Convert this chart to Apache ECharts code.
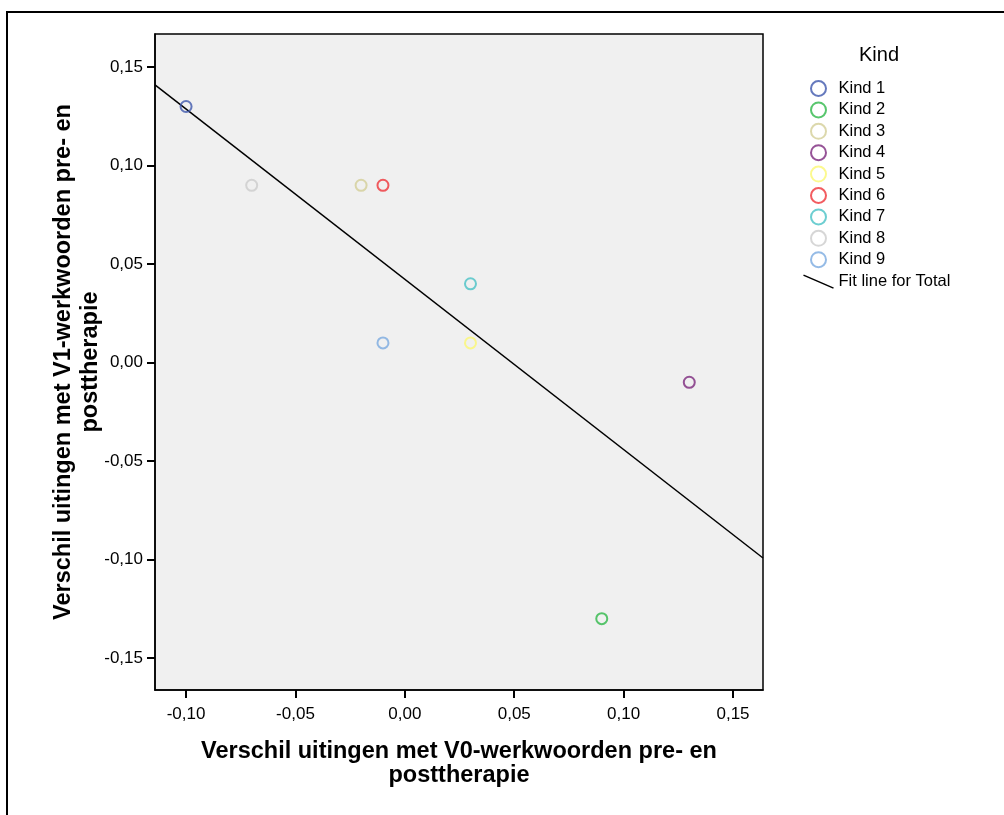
<!DOCTYPE html>
<html>
<head>
<meta charset="utf-8">
<script src="https://cdn.jsdelivr.net/npm/echarts@6/dist/echarts.min.js"></script>
<style>
  html, body { margin: 0; padding: 0; background: #fff; }
  #chart { width: 1004px; height: 815px; }
</style>
</head>
<body>
<div id="chart"></div>
<script>
// data
let kindNames = ['Kind 1', 'Kind 2', 'Kind 3', 'Kind 4', 'Kind 5', 'Kind 6', 'Kind 7', 'Kind 8', 'Kind 9'];
let kindColors = ['#3e58ac', '#2eb848', '#d3ce97', '#7c287d', '#fbf873', '#ef3338', '#48c2c5', '#cccccc', '#7aaae0'];
let xValues = [-0.10, 0.09, -0.02, 0.13, 0.03, -0.01, 0.03, -0.07, -0.01];
let yValues = [0.13, -0.13, 0.09, -0.01, 0.01, 0.09, 0.04, 0.09, 0.01];
let xTicks = [-0.10, -0.05, 0, 0.05, 0.10, 0.15];
let yTicks = [-0.15, -0.10, -0.05, 0, 0.05, 0.10, 0.15];
let xRange = [-0.1142, 0.1637];
let yRange = [-0.1662, 0.1668];

let fontName = 'Liberation Sans, Arial, sans-serif';
let fmt = (v) => v.toFixed(2).replace('.', ',');

// least squares fit line for all points
let fitLine = () => {
  let n = xValues.length;
  let mx = xValues.reduce((a, b) => a + b, 0) / n;
  let my = yValues.reduce((a, b) => a + b, 0) / n;
  let sxy = 0, sxx = 0;
  for (let i = 0; i < n; i++) {
    sxy += (xValues[i] - mx) * (yValues[i] - my);
    sxx += (xValues[i] - mx) * (xValues[i] - mx);
  }
  let b = sxy / sxx;
  let a = my - b * mx;
  return xRange.map(x => [x, a + b * x]);
}

let series = kindNames.map((name, i) => ({
  name: name,
  type: 'scatter',
  symbol: 'circle',
  symbolSize: 11,
  itemStyle: { color: 'transparent', borderColor: kindColors[i], borderWidth: 2 },
  data: [[xValues[i], yValues[i]]],
  z: 3
}));
series.push({
  name: 'Fit line for Total',
  type: 'line',
  symbol: 'none',
  lineStyle: { color: '#000', width: 1.5 },
  data: fitLine(),
  z: 2
});

let legendData = kindNames.map((name, i) => ({
  name: name,
  icon: 'circle',
  itemStyle: { color: 'transparent', borderColor: kindColors[i], borderWidth: 2 }
}));
legendData.push({
  name: 'Fit line for Total',
  icon: 'path://M0,0L30,13',
  itemStyle: { color: 'none', borderColor: '#000', borderWidth: 1.5 }
});

let myChart = echarts.init(document.getElementById('chart'));
let option = {
  animation: false,
  backgroundColor: '#fff',
  grid: {
    left: 155, top: 34, right: 241, bottom: 125,
    show: true, backgroundColor: '#f0f0f0', borderColor: '#000', borderWidth: 1.5
  },
  xAxis: {
    type: 'value',
    min: xRange[0], max: xRange[1],
    name: 'Verschil uitingen met V0-werkwoorden pre- en\nposttherapie',
    nameLocation: 'middle',
    nameGap: 50,
    nameMoveOverlap: false,
    nameTextStyle: { fontFamily: fontName, fontSize: 23.5, fontWeight: 'bold', color: '#000', lineHeight: 24 },
    splitLine: { show: false },
    axisLine: { show: true, onZero: false, lineStyle: { color: '#000', width: 1.5 } },
    axisTick: { show: true, length: 8, customValues: xTicks, lineStyle: { color: '#000', width: 2 } },
    axisLabel: { customValues: xTicks, formatter: fmt, margin: 16, fontFamily: fontName, fontSize: 17, color: '#000' }
  },
  yAxis: {
    type: 'value',
    min: yRange[0], max: yRange[1],
    name: 'Verschil uitingen met V1-werkwoorden pre- en\nposttherapie',
    nameLocation: 'middle',
    nameRotate: 90,
    nameGap: 51,
    nameMoveOverlap: false,
    nameTextStyle: { fontFamily: fontName, fontSize: 23.5, fontWeight: 'bold', color: '#000', lineHeight: 27 },
    splitLine: { show: false },
    axisLine: { show: true, onZero: false, lineStyle: { color: '#000', width: 1.5 } },
    axisTick: { show: true, length: 8, customValues: yTicks, lineStyle: { color: '#000', width: 2 } },
    axisLabel: { customValues: yTicks, formatter: fmt, margin: 12, fontFamily: fontName, fontSize: 17, color: '#000' }
  },
  legend: {
    orient: 'vertical',
    left: 801, top: 80,
    padding: 0,
    itemWidth: 30, itemHeight: 15, itemGap: 4.4,
    selectedMode: false,
    textStyle: { fontFamily: fontName, fontSize: 16.5, color: '#000', lineHeight: 15 },
    data: legendData
  },
  graphic: [
    {
      type: 'rect', silent: true,
      shape: { x: 7, y: 12, width: 1100, height: 900 },
      style: { fill: 'none', stroke: '#000', lineWidth: 2 }
    },
    {
      type: 'text', left: 859, top: 45,
      style: { text: 'Kind', fontFamily: fontName, fontSize: 20, fill: '#000' }
    }
  ],
  series: series
};
myChart.setOption(option);
</script>
</body>
</html>
